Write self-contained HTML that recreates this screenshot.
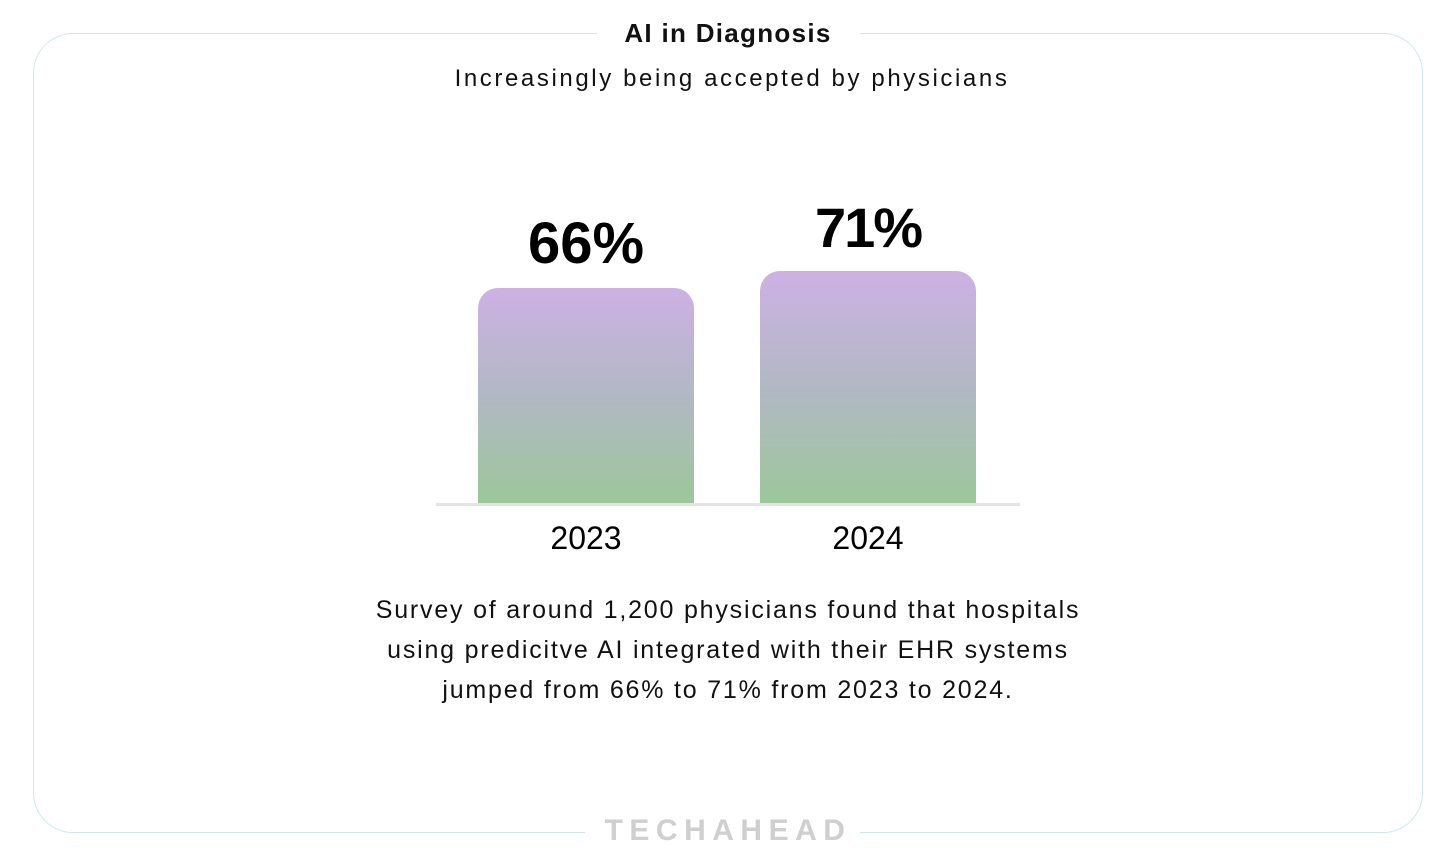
<!DOCTYPE html>
<html><head><style>
body{margin:0;width:1456px;height:866px;background:#fff;font-family:"Liberation Sans",sans-serif;position:relative;overflow:hidden}
.box{position:absolute;left:33px;top:33px;width:1388px;height:798px;border:1.5px solid #d2e6ea;border-radius:40px}
.gap{position:absolute;background:#fff}
.t{position:absolute;left:0;width:1456px;text-align:center;color:#111}
.bar{position:absolute;width:216px;border-radius:20px 20px 0 0;background:linear-gradient(#cdb1e4,#b2b8c4 50%,#9cc79a)}
</style></head><body>
<div class="box"></div>
<div class="gap" style="left:597px;top:25px;width:263px;height:20px"></div>
<div class="gap" style="left:585px;top:820px;width:275px;height:20px"></div>
<div class="t" style="top:18px;font-size:26px;font-weight:bold;left:0;letter-spacing:1.3px">AI in Diagnosis</div>
<div class="t" style="top:65px;font-size:24px;left:4px;letter-spacing:2.6px">Increasingly being accepted by physicians</div>
<div class="bar" style="left:478px;top:288px;height:216px"></div>
<div class="bar" style="left:760px;top:271px;height:233px"></div>
<div style="position:absolute;left:436px;top:503px;width:584px;height:3px;background:#e4e4e4"></div>
<div style="position:absolute;left:478px;width:216px;top:210px;text-align:center;font-size:58px;font-weight:bold">66%</div>
<div style="position:absolute;left:760px;width:216px;top:195px;text-align:center;font-size:56px;font-weight:bold;letter-spacing:-2px">71%</div>
<div style="position:absolute;left:478px;width:216px;top:520px;text-align:center;font-size:32px">2023</div>
<div style="position:absolute;left:760px;width:216px;top:520px;text-align:center;font-size:32px">2024</div>
<div class="t" style="top:590px;font-size:25px;line-height:40px;letter-spacing:1.8px">Survey of around 1,200 physicians found that hospitals<br>using predicitve AI integrated with their EHR systems<br>jumped from 66% to 71% from 2023 to 2024.</div>
<div class="t" style="top:814px;font-size:30px;font-weight:bold;color:#cfcfcf;letter-spacing:6.5px;left:0">TECHAHEAD</div>
</body></html>
